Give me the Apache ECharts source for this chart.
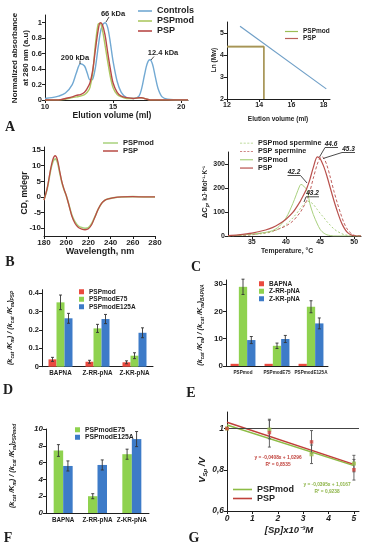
<!DOCTYPE html>
<html><head><meta charset="utf-8">
<script src="https://cdn.jsdelivr.net/npm/echarts@6/dist/echarts.min.js"></script>
<style>html,body{margin:0;padding:0;background:#fff}#c{width:369px;height:550px}</style>
</head><body><div id="c"></div>
<script>
// ---------- Panel A (SEC) ----------
const aVolume = [10, 10.5, 11, 11.5, 12, 12.3, 12.6, 12.9, 13.1, 13.3, 13.5, 13.7, 13.9, 14.05, 14.2, 14.4, 14.6, 14.8, 15.0, 15.3, 15.6, 16.0, 16.5, 16.9, 17.1, 17.3, 17.5, 17.7, 17.9, 18.1, 18.3, 18.6, 19, 20, 20.5];
const aControls = [0.02, 0.03, 0.05, 0.09, 0.2, 0.35, 0.47, 0.44, 0.35, 0.26, 0.27, 0.42, 0.68, 0.86, 0.96, 1.0, 0.94, 0.74, 0.5, 0.24, 0.1, 0.03, 0.02, 0.05, 0.15, 0.32, 0.47, 0.52, 0.46, 0.3, 0.15, 0.04, 0.01, 0, 0];
const aPSPmod = [0, 0, 0, 0.01, 0.03, 0.04, 0.05, 0.07, 0.1, 0.16, 0.35, 0.72, 0.98, 0.99, 0.92, 0.72, 0.5, 0.3, 0.16, 0.07, 0.04, 0.02, 0.02, 0.03, 0.03, 0.02, 0.01, 0, 0, 0, 0, 0, 0, 0, 0];
const aPSP = [0, 0, 0, 0.02, 0.04, 0.06, 0.07, 0.1, 0.15, 0.22, 0.38, 0.65, 0.9, 1.0, 0.98, 0.85, 0.62, 0.4, 0.22, 0.1, 0.05, 0.03, 0.02, 0.03, 0.03, 0.02, 0.01, 0, 0, 0, 0, 0, 0, 0, 0];
// calibration
const calVolume = [12.81, 18.17];
const calLnMw = [5.31, 2.46];
const pspVolume = [12, 14.29, 14.29];
const pspLnMw = [4.38, 4.38, 2];
// ---------- Panel B (CD) ----------
const bWave = [180, 183, 186, 188, 190, 192, 194, 196, 198, 200, 202, 205, 208, 211, 214, 217, 220, 223, 226, 229, 232, 235, 238, 242, 250, 260, 270, 280];
const bPSP = [-1, 3, 9, 12, 13.2, 12, 8.5, 5, 2.5, 0.5, -2, -6, -8.5, -9.8, -10.3, -10.5, -10.2, -8.8, -6.3, -3.8, -2, -1, -0.6, -0.3, 0, 0.1, 0, 0];
const bPSPmod = [-1, 2.8, 8.5, 11.2, 12.2, 11.2, 8, 4.8, 2.4, 0.5, -1.9, -5.7, -8, -9.3, -9.8, -10, -9.8, -8.5, -6.2, -3.8, -2, -1, -0.6, -0.3, 0, 0.1, 0, 0];
// ---------- Panel C (DSC) ----------
const cTemp = [31.5, 33, 35, 37, 38, 39, 40, 41, 42, 42.2, 43, 43.2, 43.5, 44, 44.6, 45, 45.3, 45.6, 46, 46.5, 47, 47.5, 48, 48.5, 49, 49.5, 50, 51];
const cPSP = [2, 5, 12, 25, 35, 50, 70, 98, 140, 150, 195, 210, 235, 285, 330, 322, 305, 285, 250, 200, 150, 105, 65, 35, 15, 5, 1, 0];
const cPSPsperm = [0, 2, 6, 14, 20, 30, 42, 62, 95, 103, 145, 160, 185, 240, 300, 325, 330, 322, 295, 245, 190, 140, 95, 55, 28, 12, 3, 0];
const cPSPmod = [1, 3, 8, 15, 22, 40, 75, 135, 208, 215, 195, 180, 135, 90, 50, 28, 18, 11, 5, 2, 0, 0, 0, 0, 0, 0, 0, 0];
const cPSPmodSperm = [0, 2, 5, 12, 18, 30, 48, 75, 110, 118, 143, 145, 143, 132, 110, 95, 85, 75, 60, 45, 30, 20, 12, 6, 3, 1, 0, 0];
// ---------- Panel D ----------
const dCats = ['BAPNA', 'Z-RR-pNA', 'Z-KR-pNA'];
const dPSPmod = [0.04, 0.027, 0.024], dPSPmodErr = [0.011, 0.008, 0.008];
const dE75 = [0.351, 0.209, 0.06], dE75Err = [0.04, 0.022, 0.016];
const dE125A = [0.264, 0.26, 0.185], dE125AErr = [0.027, 0.025, 0.027];
// ---------- Panel E ----------
const eCats = ['PSPmod', 'PSPmodE75', 'PSPmodE125A'];
const eBAPNA = [0.8, 0.8, 0.8];
const eZRR = [29.0, 7.4, 21.7], eZRRErr = [2.8, 1.0, 2.2];
const eZKR = [9.5, 9.9, 15.6], eZKRErr = [1.3, 1.3, 2.0];
// ---------- Panel F ----------
const fCats = ['BAPNA', 'Z-RR-pNA', 'Z-KR-pNA'];
const fE75 = [7.44, 2.0, 7.0], fE75Err = [0.7, 0.3, 0.6];
const fE125A = [5.6, 5.72, 8.8], fE125AErr = [0.6, 0.6, 0.9];
// ---------- Panel G ----------
const gSp = [0, 1.67, 3.33, 5];
const gPSPmod = [1.0, 0.995, 0.875, 0.83], gPSPmodLo = [1.0, 0.95, 0.83, 0.79], gPSPmodHi = [1.0, 1.045, 0.92, 0.87];
const gPSP = [1.0, 0.98, 0.935, 0.80], gPSPLo = [1.0, 0.91, 0.88, 0.75], gPSPHi = [1.0, 1.04, 0.99, 0.85];
const gFitX = [0, 5];
const gFitPSP = [1.03, 0.826];
const gFitPSPmod = [1.017, 0.82];

const FONT = '"Liberation Sans", Arial, sans-serif';
const INK = '#1e1e1e';
const C_BLUE = '#72a9d3', C_GREEN = '#adc862', C_RED = '#b84a48';
const B_RED = '#ea4a3f', B_GREEN = '#8fd24f', B_BLUE = '#3d7bc8';
const DASH_ICON = 'path://M0 0h3v1H0z M5 0h3v1H5z M10 0h3v1h-3z M15 0h3v1h-3z';
const zip = (xs, ys) => xs.map((x, i) => [x, ys[i]]);
const strip = n => n.split('#')[0];

function vax(gi, min, max, ticks, fs, extra) {
  const ax = {
    type: 'value', gridIndex: gi, min, max,
    axisLine: { show: true, onZero: false, lineStyle: { color: INK, width: 1 } },
    axisTick: { show: true, length: 3, lineStyle: { color: INK } },
    axisLabel: { fontSize: fs, fontWeight: 'bold', color: INK, fontFamily: FONT, margin: 3 },
    splitLine: { show: false }
  };
  if (ticks) { ax.axisTick.customValues = ticks; ax.axisLabel.customValues = ticks; }
  if (extra) {
    if (extra.label) Object.assign(ax.axisLabel, extra.label);
    if (extra.interval) ax.interval = extra.interval;
  }
  return ax;
}
function cax(gi, cats, fs, margin) {
  return {
    type: 'category', gridIndex: gi, data: cats,
    axisLine: { show: true, lineStyle: { color: INK, width: 1 } },
    axisTick: { show: false },
    axisLabel: { interval: 0, fontSize: fs, fontWeight: 'bold', color: INK, fontFamily: FONT, margin: margin, hideOverlap: false }
  };
}
function line(name, xi, xs, ys, color, extra) {
  return Object.assign({
    type: 'line', name, xAxisIndex: xi, yAxisIndex: xi, data: zip(xs, ys),
    symbol: 'none', showSymbol: false, smooth: 0.3, silent: true,
    lineStyle: { color, width: 1.4 }, itemStyle: { color }
  }, extra || {});
}
function bar(name, xi, vals, color, bw) {
  return { type: 'bar', name, xAxisIndex: xi, yAxisIndex: xi, data: vals, barWidth: bw, barGap: '0%', silent: true, itemStyle: { color } };
}
function errs(xi, xs, lo, hi, offset, color, cap) {
  return {
    type: 'custom', xAxisIndex: xi, yAxisIndex: xi, silent: true, z: 5,
    data: xs.map((x, i) => [x, lo[i], hi[i]]), encode: { x: 0, y: [1, 2] },
    renderItem: (p, api) => {
      const a = api.coord([api.value(0), api.value(1)]);
      const b = api.coord([api.value(0), api.value(2)]);
      const x = a[0] + offset, c = cap;
      const st = { stroke: color, lineWidth: 0.9 };
      return { type: 'group', children: [
        { type: 'line', shape: { x1: x, y1: a[1], x2: x, y2: b[1] }, style: st },
        { type: 'line', shape: { x1: x - c, y1: a[1], x2: x + c, y2: a[1] }, style: st },
        { type: 'line', shape: { x1: x - c, y1: b[1], x2: x + c, y2: b[1] }, style: st }
      ] };
    }
  };
}
// names: array of [name, icon]
function legend(items, left, top, fs, iw, ih, gap, lh) {
  return {
    data: items.map(it => ({ name: it[0], icon: it[1] })), left, top, orient: 'vertical',
    itemWidth: iw, itemHeight: ih, itemGap: gap,
    selectedMode: false, padding: 0, formatter: strip,
    textStyle: { fontSize: fs, fontWeight: 'bold', color: INK, fontFamily: FONT, lineHeight: lh }
  };
}
function T(x, y, text, size, o) {
  o = o || {};
  return {
    type: 'text', x, y, rotation: o.rot || 0, silent: true, z: 100,
    style: {
      text, fontSize: size, fontWeight: o.weight || 'bold', fontStyle: o.style || 'normal',
      fontFamily: o.family || FONT, fill: o.color || INK, align: o.align || 'center',
      verticalAlign: 'middle', rich: o.rich, lineHeight: o.lh
    }
  };
}
function L(x1, y1, x2, y2, color, w) {
  return { type: 'line', silent: true, z: 100, shape: { x1, y1, x2, y2 }, style: { stroke: color || INK, lineWidth: w || 0.8 } };
}
const R90 = Math.PI / 2;
const subRich = (fs) => ({
  n: { fontSize: fs, fontWeight: 'bold', fontStyle: 'italic', fontFamily: FONT, fill: INK },
  s: { fontSize: fs * 0.65, fontWeight: 'bold', fontStyle: 'italic', fontFamily: FONT, fill: INK, verticalAlign: 'bottom', lineHeight: fs * 1.4 }
});
const ratioLabel = (sub) => '{n|(k}{s|cat}{n| /K}{s|m}{n|) / (k}{s|cat}{n| /K}{s|m}{n|)}{s|' + sub + '}';

const option = {
  animation: false,
  backgroundColor: '#fff',
  grid: [
    { left: 45, top: 15, width: 143, height: 85 },
    { left: 227, top: 22, width: 103, height: 77 },
    { left: 44, top: 147, width: 111, height: 89 },
    { left: 228, top: 152, width: 133, height: 84 },
    { left: 42, top: 289.7, width: 111, height: 77 },
    { left: 226, top: 280, width: 102, height: 86 },
    { left: 46, top: 429, width: 103, height: 84 },
    { left: 227, top: 412, width: 132, height: 99 }
  ],
  xAxis: [
    vax(0, 10, 20.5, [10, 15, 20], 7.5),
    vax(1, 12, 18.4, [12, 14, 16, 18], 7),
    vax(2, 180, 280, null, 8, { interval: 20 }),
    vax(3, 31.5, 51, [35, 40, 45, 50], 7),
    cax(4, dCats, 6.3, 4),
    cax(5, eCats, 4.6, 4),
    cax(6, fCats, 6.3, 4),
    vax(7, 0, 5.2, [0, 1, 2, 3, 4, 5], 8.5, { label: { fontStyle: 'italic' } })
  ],
  yAxis: [
    vax(0, 0, 1.1, [0, 0.2, 0.4, 0.6, 0.8, 1], 7.5),
    vax(1, 2, 5.5, [2, 3, 4, 5], 7),
    vax(2, -12.5, 16, [-10, -5, 0, 5, 10, 15], 8),
    vax(3, 0, 350, [0, 100, 200, 300], 7),
    vax(4, 0, 0.42, [0, 0.1, 0.2, 0.3, 0.4], 7.5),
    vax(5, 0, 31.5, [0, 10, 20, 30], 8),
    vax(6, 0, 10, null, 8, { interval: 2, label: { fontStyle: 'italic' } }),
    vax(7, 0.6, 1.08, [0.6, 0.8, 1], 8.5, { label: { fontStyle: 'italic', formatter: v => (Math.abs(v - 1) < 1e-9 ? '1' : v.toFixed(1).replace('.', ',')) } })
  ],
  legend: [
    legend([['Controls#A', 'rect'], ['PSPmod#A', 'rect'], ['PSP#A', 'rect']], 138, 6, 9, 14, 1.6, 0, 10),
    legend([['PSPmod#A2', 'rect'], ['PSP#A2', 'rect']], 285, 28, 6.5, 13, 1.2, 0, 7),
    legend([['PSPmod#B', 'rect'], ['PSP#B', 'rect']], 103, 139, 7.5, 15, 1.5, 0, 8),
    legend([['PSPmod spermine#C', DASH_ICON], ['PSP spermine#C', DASH_ICON], ['PSPmod#C', 'rect'], ['PSP#C', 'rect']], 240, 139, 7.2, 13, 1.2, 0, 8.3),
    legend([['PSPmod#D', 'rect'], ['PSPmodE75#D', 'rect'], ['PSPmodE125A#D', 'rect']], 79, 288, 6.5, 5, 5, 0, 7.5),
    legend([['BAPNA#E', 'rect'], ['Z-RR-pNA#E', 'rect'], ['Z-KR-pNA#E', 'rect']], 259, 280, 6.5, 5, 5, 0, 7.5),
    legend([['PSPmodE75#F', 'rect'], ['PSPmodE125A#F', 'rect']], 75, 426, 6.8, 5, 5, 0, 7.5),
    legend([['PSPmod#G', 'rect'], ['PSP#G', 'rect']], 233, 485, 9, 19, 1.6, 0, 8.5)
  ],
  series: [
    // A
    line('Controls#A', 0, aVolume, aControls, C_BLUE, { z: 3 }),
    line('PSPmod#A', 0, aVolume, aPSPmod, C_GREEN, { z: 4 }),
    line('PSP#A', 0, aVolume, aPSP, C_RED, { z: 5 }),
    // A2
    line('Calibration#A2', 1, calVolume, calLnMw, '#6f9fc7', { smooth: false, lineStyle: { color: '#6f9fc7', width: 1.2 } }),
    line('PSPmod#A2', 1, pspVolume, pspLnMw, '#9bbd55', { smooth: false, lineStyle: { color: '#9bbd55', width: 1.6 } }),
    line('PSP#A2', 1, pspVolume, pspLnMw, '#b9605a', { smooth: false, lineStyle: { color: '#b9605a', width: 1.6, opacity: 0.45 } }),
    // B
    line('PSPmod#B', 2, bWave, bPSPmod, '#a8d27c', { lineStyle: { color: '#a8d27c', width: 1.6 } }),
    line('PSP#B', 2, bWave, bPSP, '#b94b45', { lineStyle: { color: '#b94b45', width: 1.3 } }),
    // C
    line('PSPmod spermine#C', 3, cTemp, cPSPmodSperm, '#a9d07e', { lineStyle: { color: '#a9d07e', width: 1, type: [2, 2] } }),
    line('PSP spermine#C', 3, cTemp, cPSPsperm, '#c0605e', { lineStyle: { color: '#c0605e', width: 1, type: [3, 2] } }),
    line('PSPmod#C', 3, cTemp, cPSPmod, '#a9d07e', { lineStyle: { color: '#a9d07e', width: 1 } }),
    line('PSP#C', 3, cTemp, cPSP, '#b9504c', { lineStyle: { color: '#b9504c', width: 1.2 } }),
    // D
    bar('PSPmod#D', 4, dPSPmod, B_RED, 8),
    bar('PSPmodE75#D', 4, dE75, B_GREEN, 8),
    bar('PSPmodE125A#D', 4, dE125A, B_BLUE, 8),
    errs(4, [0, 1, 2], dPSPmod.map((v, i) => v - dPSPmodErr[i]), dPSPmod.map((v, i) => v + dPSPmodErr[i]), -8, '#333', 1.5),
    errs(4, [0, 1, 2], dE75.map((v, i) => v - dE75Err[i]), dE75.map((v, i) => v + dE75Err[i]), 0, '#333', 1.5),
    errs(4, [0, 1, 2], dE125A.map((v, i) => v - dE125AErr[i]), dE125A.map((v, i) => v + dE125AErr[i]), 8, '#333', 1.5),
    // E
    bar('BAPNA#E', 5, eBAPNA, B_RED, 8.3),
    bar('Z-RR-pNA#E', 5, eZRR, B_GREEN, 8.3),
    bar('Z-KR-pNA#E', 5, eZKR, B_BLUE, 8.3),
    errs(5, [0, 1, 2], eZRR.map((v, i) => v - eZRRErr[i]), eZRR.map((v, i) => v + eZRRErr[i]), 0, '#333', 1.5),
    errs(5, [0, 1, 2], eZKR.map((v, i) => v - eZKRErr[i]), eZKR.map((v, i) => v + eZKRErr[i]), 8.3, '#333', 1.5),
    // F
    bar('PSPmodE75#F', 6, fE75, B_GREEN, 9.5),
    bar('PSPmodE125A#F', 6, fE125A, B_BLUE, 9.5),
    errs(6, [0, 1, 2], fE75.map((v, i) => v - fE75Err[i]), fE75.map((v, i) => v + fE75Err[i]), -4.75, '#333', 1.5),
    errs(6, [0, 1, 2], fE125A.map((v, i) => v - fE125AErr[i]), fE125A.map((v, i) => v + fE125AErr[i]), 4.75, '#333', 1.5),
    // G
    line('PSPmod#G', 7, gFitX, gFitPSPmod, '#8cbc45', { smooth: false, lineStyle: { color: '#8cbc45', width: 1.5 },
      markLine: { silent: true, symbol: 'none', label: { show: false }, lineStyle: { color: '#444', type: 'solid', width: 1 }, data: [{ yAxis: 1 }] } }),
    line('PSP#G', 7, gFitX, gFitPSP, '#c0403a', { smooth: false, lineStyle: { color: '#c0403a', width: 1.5 } }),
    errs(7, gSp.slice(1), gPSPmodLo.slice(1), gPSPmodHi.slice(1), 0, '#555', 1.5),
    errs(7, gSp.slice(1), gPSPLo.slice(1), gPSPHi.slice(1), 0, '#555', 1.5),
    { type: 'scatter', name: 'PSPmod pts', xAxisIndex: 7, yAxisIndex: 7, data: zip(gSp, gPSPmod), symbol: 'rect', symbolSize: 4, itemStyle: { color: '#9cc24e' }, z: 6, silent: true },
    { type: 'scatter', name: 'PSP pts', xAxisIndex: 7, yAxisIndex: 7, data: zip(gSp, gPSP), symbol: 'rect', symbolSize: 3.5, itemStyle: { color: '#d0453e' }, z: 6, silent: true }
  ],
  graphic: [
    // A annotations and titles
    T(113, 13.5, '66 kDa', 7.5), L(106, 22, 109, 17),
    T(75, 57.5, '200 kDa', 7.5), L(80, 60.5, 80, 64),
    T(163, 53, '12.4 kDa', 7.5), L(151, 60, 154, 56.5),
    T(20, 58, 'Normalized absorbance\nat 280 nm (a.u)', 8, { rot: R90, lh: 11 }),
    T(112, 116, 'Elution volume (ml)', 8.5),
    T(10, 127, 'A', 14, { family: '"Liberation Serif", serif' }),
    T(214, 60, 'Ln (Mw)', 6.5, { rot: R90 }),
    T(278, 119, 'Elution volume (ml)', 6.5),
    // B
    T(25, 193, 'CD, mdegr', 8.5, { rot: R90 }),
    T(100, 252, 'Wavelength, nm', 9),
    T(10, 262, 'B', 14, { family: '"Liberation Serif", serif' }),
    // C
    T(205, 192, '{n|ΔC}{s|p}{m|, kJ·Mol⁻¹·K⁻¹}', 7, { rot: R90, rich: {
      n: { fontSize: 7.5, fontWeight: 'bold', fontFamily: FONT, fill: INK },
      s: { fontSize: 5, fontWeight: 'bold', fontStyle: 'italic', fontFamily: FONT, fill: INK, verticalAlign: 'bottom', lineHeight: 10 },
      m: { fontSize: 6.3, fontWeight: 'bold', fontFamily: FONT, fill: INK } } }),
    T(287, 251, 'Temperature, °C', 6.8),
    T(196, 267, 'C', 14, { family: '"Liberation Serif", serif' }),
    T(331, 144.5, '44.6', 6.5, { style: 'italic' }), L(325, 147.5, 338, 147.5), L(319.5, 157, 325, 147.5),
    T(348.5, 149.5, '45.3', 6.5, { style: 'italic' }), L(342, 152.5, 355, 152.5), L(323, 158.5, 342, 152.5),
    T(294, 172.5, '42.2', 6.5, { style: 'italic' }), L(287.5, 175.5, 300.5, 175.5), L(300.5, 175.5, 307, 183),
    T(312.5, 193.5, '43.2', 6.5, { style: 'italic' }), L(306, 196.8, 319, 196.8), L(306, 196.8, 304, 202),
    // D
    T(10, 328, ratioLabel('PSP'), 7.3, { rot: R90, rich: subRich(7.3) }),
    T(8, 390, 'D', 14, { family: '"Liberation Serif", serif' }),
    // E
    T(200, 325, ratioLabel('BAPNA'), 7.3, { rot: R90, rich: subRich(7.3) }),
    T(191, 393, 'E', 14, { family: '"Liberation Serif", serif' }),
    // F
    T(12, 466, ratioLabel('PSPmod'), 7.3, { rot: R90, rich: subRich(7.3) }),
    T(8, 538, 'F', 14, { family: '"Liberation Serif", serif' }),
    // G
    T(202, 470, '{n|V}{s|Sp}{n| /V}', 9, { rot: R90, rich: {
      n: { fontSize: 9.5, fontWeight: 'bold', fontStyle: 'italic', fontFamily: FONT, fill: INK },
      s: { fontSize: 6, fontWeight: 'bold', fontStyle: 'italic', fontFamily: FONT, fill: INK, verticalAlign: 'bottom', lineHeight: 13 } } }),
    T(289, 530, '[Sp]x10⁻³M', 9.5, { style: 'italic' }),
    T(194, 538, 'G', 14, { family: '"Liberation Serif", serif' }),
    T(278, 458, 'y = -0,0408x + 1,0296', 4.8, { color: '#c0403a' }),
    T(278, 465, 'R² = 0,8535', 4.8, { color: '#c0403a' }),
    T(327, 485, 'y = -0,0395x + 1,0167', 4.8, { color: '#8cb345' }),
    T(327, 492, 'R² = 0,9238', 4.8, { color: '#8cb345' })
  ]
};
const chart = echarts.init(document.getElementById('c'), null, { renderer: 'canvas' });
chart.setOption(option);
</script></body></html>
